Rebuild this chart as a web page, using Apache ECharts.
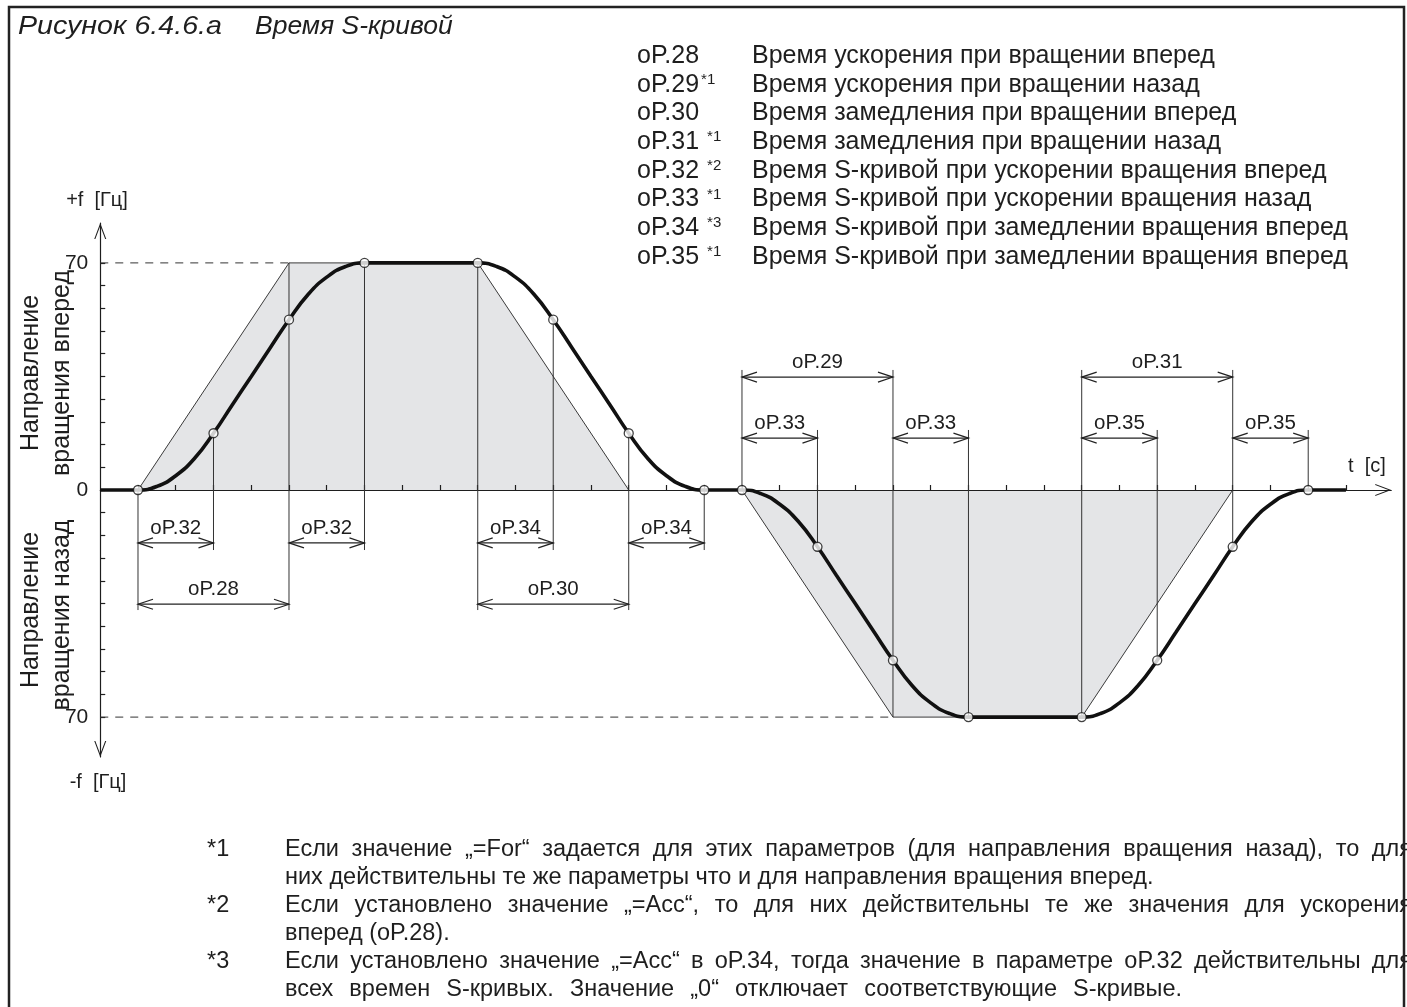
<!DOCTYPE html>
<html><head><meta charset="utf-8">
<script src="https://cdn.jsdelivr.net/npm/echarts@6/dist/echarts.min.js"></script>
<style>html,body{margin:0;padding:0;background:#fff}#c{width:1407px;height:1007px}</style>
</head><body><div id="c"></div>
<script>
// ---------------- data ----------------
// S-curve (thick line): time units vs frequency [Hz]
const sCurveT = [0,1,1.5,2,2.5,3,3.5,4,4.5,5,5.5,6,6.5,7,
  10,10.5,11,11.5,12,12.5,13,13.5,14,14.5,15,15.5,16,
  17,17.5,18,18.5,19,19.5,20,20.5,21,21.5,22,22.5,23,
  26,26.5,27,27.5,28,28.5,29,29.5,30,30.5,31,31.5,32,33];
const sCurveF = [0,0,1.1,4.4,9.8,17.5,26.3,35,43.8,52.5,60.2,65.6,68.9,70,
  70,68.9,65.6,60.2,52.5,43.8,35,26.3,17.5,9.8,4.4,1.1,0,
  0,-1.1,-4.4,-9.8,-17.5,-26.3,-35,-43.8,-52.5,-60.2,-65.6,-68.9,-70,
  -70,-68.9,-65.6,-60.2,-52.5,-43.8,-35,-26.3,-17.5,-9.8,-4.4,-1.1,0,0];
// marked points on the S-curve
const keyT = [1,3,5,7,10,12,14,16,17,19,21,23,26,28,30,32];
const keyF = [0,17.5,52.5,70,70,52.5,17.5,0,0,-17.5,-52.5,-70,-70,-52.5,-17.5,0];
// linear ramps (shaded trapezoids)
const rampFwdT = [1,5,10,14];
const rampFwdF = [0,70,70,0];
const rampRevT = [17,21,26,30];
const rampRevF = [0,-70,-70,0];
// dashed limit lines
const limitLevel = [70,-70];
const limitEnd = [5,21];
// axis ticks / labels
const xTickValues = [1,2,3,4,5,6,7,8,9,10,11,12,13,14,15,16,17,18,19,20,21,22,23,24,25,26,27,28,29,30,31,32,33];
const yTickValues = [-70,-63,-56,-49,-42,-35,-28,-21,-14,-7,0,7,14,21,28,35,42,49,56,63,70];
const yLabelValues = [-70,0,70];
// extension (vertical) lines: time, from, to
const extT    = [1,3,5,7,10,12,14,16, 17,19,21,23,26,28,30,32];
const extFrom = [0,17.5,70,70,70,52.5,17.5,0, 37,18.5,37,18.5,37,18.5,37,18.5];
const extTo   = [-37,-18.5,-37,-18.5,-37,-18.5,-37,-18.5, 0,-17.5,-70,-70,-70,-52.5,-17.5,0];
// dimension arrows
const dimLabels = ['oP.32','oP.32','oP.34','oP.34','oP.28','oP.30','oP.29','oP.31','oP.33','oP.33','oP.35','oP.35'];
const dimFrom   = [1,5,10,14,1,10,17,26,17,21,26,30];
const dimTo     = [3,7,12,16,5,14,21,30,19,23,28,32];
const dimLevel  = [-16.3,-16.3,-16.3,-16.3,-35.2,-35.2,34.8,34.8,16,16,16,16];
// legend
const legendCodes = ['oP.28','oP.29','oP.30','oP.31','oP.32','oP.33','oP.34','oP.35'];
const legendNotes = ['','*1','','*1','*2','*1','*3','*1'];
const legendTexts = [
  'Время ускорения при вращении вперед',
  'Время ускорения при вращении назад',
  'Время замедления при вращении вперед',
  'Время замедления при вращении назад',
  'Время S-кривой при ускорении вращения вперед',
  'Время S-кривой при ускорении вращения назад',
  'Время S-кривой при замедлении вращения вперед',
  'Время S-кривой при замедлении вращения вперед'
];
// footnotes
const footMarks = ['*1','*2','*3'];
const footLines = [
  ['Если значение „=For“ задается для этих параметров (для направления вращения назад), то для',
   'них действительны те же параметры что и для направления вращения вперед.'],
  ['Если установлено значение „=Acc“, то для них действительны те же значения для ускорения',
   'вперед (oP.28).'],
  ['Если установлено значение „=Acc“ в oP.34, тогда значение в параметре oP.32 действительны для',
   'всех времен S-кривых.  Значение „0“ отключает соответствующие  S-кривые.']
];
const titleNumber = 'Рисунок 6.4.6.a';
const titleText = 'Время S-кривой';

// ---------------- drawing ----------------
const FF = '"Liberation Sans", Arial, Helvetica, sans-serif';
const INK = '#1e1e1e';
const CHEV = 'path://M6,0 L12,16 L10.9,16 L6,2.9 L1.1,16 L0,16 Z';

const chart = echarts.init(document.getElementById('c'), null, {renderer: 'canvas'});

const mctx = document.createElement('canvas').getContext('2d');
function textWidth(t, font) { mctx.font = font; return mctx.measureText(t).width; }

const graphics = [];
// frame
graphics.push({type: 'rect', shape: {x: 9, y: 7, width: 1395, height: 1100},
  style: {fill: 'none', stroke: '#222', lineWidth: 2.5}, z: 100});
// title
const titleFont = 'italic 26.5px ' + FF;
graphics.push({type: 'text', x: 18, y: 27, scaleX: 1.08, style: {text: titleNumber, font: titleFont, fill: INK, verticalAlign: 'middle'}});
graphics.push({type: 'text', x: 255, y: 27, style: {text: titleText, font: titleFont, fill: INK, verticalAlign: 'middle'}});
// legend
const legFont = '25px ' + FF;
legendCodes.forEach((c, i) => {
  const y = 56 + i * 28.7;
  graphics.push({type: 'text', x: 637, y: y, style: {text: c, font: legFont, fill: INK, verticalAlign: 'middle'}});
  if (legendNotes[i]) {
    const nx = 637 + textWidth(c, legFont) + (i === 1 ? 2 : 8);
    graphics.push({type: 'text', x: nx, y: y - 5, style: {text: legendNotes[i], font: '15px ' + FF, fill: INK, verticalAlign: 'middle'}});
  }
  graphics.push({type: 'text', x: 752, y: y, style: {text: legendTexts[i], font: legFont, fill: INK, verticalAlign: 'middle'}});
});
// axis names
const axFont = '20px ' + FF;
graphics.push({type: 'text', x: 97, y: 200, style: {text: '+f  [Гц]', font: axFont, fill: INK, align: 'center', verticalAlign: 'middle'}});
graphics.push({type: 'text', x: 98, y: 782, style: {text: '-f  [Гц]', font: axFont, fill: INK, align: 'center', verticalAlign: 'middle'}});
graphics.push({type: 'text', x: 1367, y: 466, style: {text: 't  [c]', font: axFont, fill: INK, align: 'center', verticalAlign: 'middle'}});
// rotated direction labels
const rotFont = '25px ' + FF;
[['Направление', 31, 373], ['вращения вперед', 62, 373], ['Направление', 31, 610], ['вращения назад', 62, 615]].forEach(d => {
  graphics.push({type: 'text', x: d[1], y: d[2], rotation: Math.PI / 2,
    style: {text: d[0], font: rotFont, fill: INK, align: 'center', verticalAlign: 'middle'}});
});
// footnotes (first lines justified to the right edge, as in the print)
const footFont = '23.5px ' + FF;
const footEnds = [[1412, null], [1412, null], [1412, 1182]];
function pushJustified(line, x0, x1, y) {
  if (x1 == null) {
    graphics.push({type: 'text', x: x0, y: y, style: {text: line, font: footFont, fill: INK, verticalAlign: 'middle'}});
    return;
  }
  const words = line.split(/\s+/);
  const ws = words.map(w => textWidth(w, footFont));
  const total = ws.reduce((a, b) => a + b, 0);
  const gap = (x1 - x0 - total) / (words.length - 1);
  let x = x0;
  words.forEach((w, i) => {
    graphics.push({type: 'text', x: x, y: y, style: {text: w, font: footFont, fill: INK, verticalAlign: 'middle'}});
    x += ws[i] + gap;
  });
}
footMarks.forEach((m, k) => {
  const y0 = 850 + k * 56;
  graphics.push({type: 'text', x: 207, y: y0, style: {text: m, font: footFont, fill: INK, verticalAlign: 'middle'}});
  pushJustified(footLines[k][0], 285, footEnds[k][0], y0);
  pushJustified(footLines[k][1], 285, footEnds[k][1], y0 + 28);
});

function pairs(a, b) { return a.map((v, i) => [v, b[i]]); }

const series = [];
[[rampFwdT, rampFwdF], [rampRevT, rampRevF]].forEach(r => {
  series.push({type: 'line', data: pairs(r[0], r[1]), symbol: 'none', z: -1,
    lineStyle: {color: '#3a3a3a', width: 1}, areaStyle: {color: '#e4e5e7', opacity: 1}, silent: true});
});
limitLevel.forEach((lv, i) => {
  series.push({type: 'line', data: [[0, lv], [limitEnd[i], lv]], symbol: 'none', z: 1,
    lineStyle: {color: '#333', width: 1, type: [8, 7]}, silent: true});
});
series.push({type: 'custom', z: 1, silent: true,
  data: extT.map((t, i) => [t, extFrom[i], extTo[i]]),
  encode: {x: 0, y: [1, 2]},
  renderItem: function (params, api) {
    const a = api.coord([api.value(0), api.value(1)]);
    const b = api.coord([api.value(0), api.value(2)]);
    return {type: 'line', shape: {x1: a[0], y1: a[1], x2: b[0], y2: b[1]},
      style: {stroke: '#333', lineWidth: 1}};
  }});
series.push({type: 'line', data: pairs(sCurveT, sCurveF), symbol: 'none', smooth: 0.5, z: 5,
  lineStyle: {color: '#111', width: 3.6}, silent: true});
series.push({type: 'scatter', data: pairs(keyT, keyF), symbol: 'circle', symbolSize: 9, z: 6,
  itemStyle: {color: '#fff', borderColor: '#111', borderWidth: 1.3}, silent: true});
series.push({type: 'custom', z: 4, silent: true,
  data: dimFrom.map((f, i) => [f, dimTo[i], dimLevel[i]]),
  encode: {x: [0, 1], y: 2},
  renderItem: function (params, api) {
    const a = api.coord([api.value(0), api.value(2)]);
    const b = api.coord([api.value(1), api.value(2)]);
    const L = 15, W = 5;
    const st = {stroke: '#222', lineWidth: 1.2, fill: 'none'};
    return {type: 'group', children: [
      {type: 'line', shape: {x1: a[0], y1: a[1], x2: b[0], y2: b[1]}, style: st},
      {type: 'polyline', shape: {points: [[a[0] + L, a[1] - W], [a[0], a[1]], [a[0] + L, a[1] + W]]}, style: st},
      {type: 'polyline', shape: {points: [[b[0] - L, b[1] - W], [b[0], b[1]], [b[0] - L, b[1] + W]]}, style: st},
      {type: 'text', x: (a[0] + b[0]) / 2, y: a[1] - 4,
        style: {text: dimLabels[params.dataIndex], font: '20.5px ' + FF, fill: INK, align: 'center', verticalAlign: 'bottom'}}
    ]};
  }});

const option = {
  animation: false,
  backgroundColor: '#fff',
  grid: {left: 100.25, top: 223, width: 1291, height: 534, containLabel: false, outerBoundsMode: 'none'},
  xAxis: {
    type: 'value', min: 0, max: 34.2,
    axisLine: {onZero: true, lineStyle: {color: INK, width: 1.2}, symbol: ['none', CHEV], symbolSize: [12, 16], symbolOffset: [0, -8]},
    axisTick: {show: true, inside: true, length: 5, customValues: xTickValues, lineStyle: {color: INK, width: 1.2}},
    axisLabel: {show: false}, splitLine: {show: false}
  },
  yAxis: {
    type: 'value', min: -82.3, max: 82.3,
    axisLine: {onZero: false, lineStyle: {color: INK, width: 1.2}, symbol: [CHEV, CHEV], symbolSize: [12, 16], symbolOffset: [8, -8]},
    axisTick: {show: true, inside: true, length: 5, customValues: yTickValues, lineStyle: {color: INK, width: 1.2}},
    axisLabel: {customValues: yLabelValues, formatter: v => String(Math.abs(v)), fontSize: 21, fontFamily: FF, color: INK, margin: 12},
    splitLine: {show: false}
  },
  series: series,
  graphic: graphics
};
chart.setOption(option);
</script>
</body></html>
